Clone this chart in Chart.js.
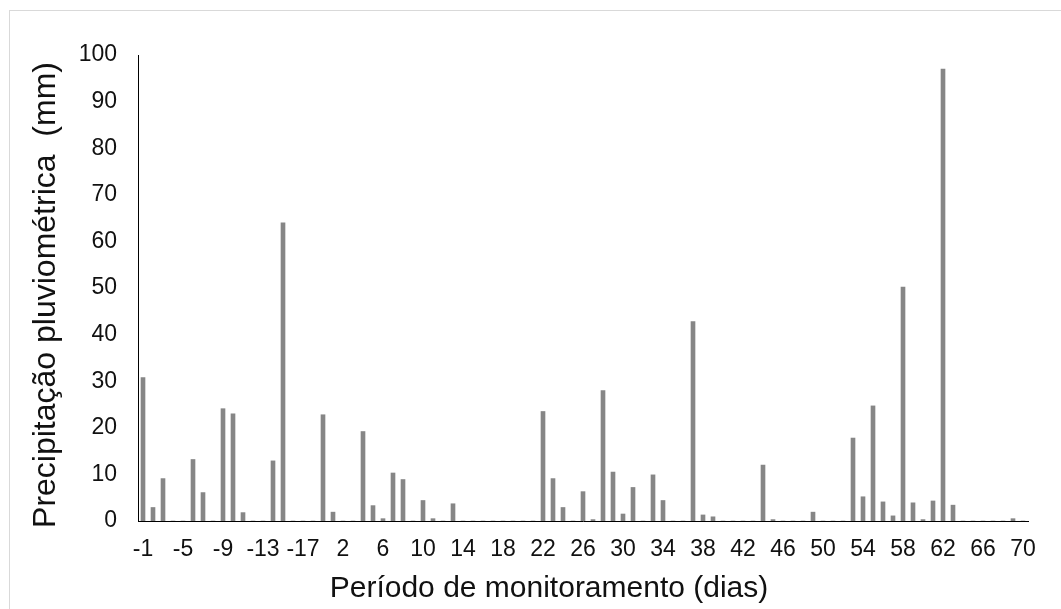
<!DOCTYPE html>
<html>
<head>
<meta charset="utf-8">
<script src="https://cdn.jsdelivr.net/npm/chart.js@4/dist/chart.umd.min.js"></script>
<style>
    html, body { margin: 0; padding: 0; background: #fff; }
    #wrap { position: relative; width: 1061px; height: 609px; overflow: hidden; }
    #frame {
        position: absolute; left: 9px; top: 10px;
        width: 1100px; height: 700px;
        border: 1px solid #d9d9d9; box-sizing: border-box;
    }
    #chart { position: absolute; left: 0; top: 0; }
</style>
</head>
<body>
<div id="wrap">
    <div id="frame"></div>
    <canvas id="chart" width="1061" height="609"></canvas>
</div>
<script>
// Days of monitoring (negative = before the start)
const days = [
    '-1', '-2', '-3', '-4', '-5', '-6', '-7', '-8', '-9', '-10',
    '-11', '-12', '-13', '-14', '-15', '-16', '-17', '-18', '0', '1',
    '2', '3', '4', '5', '6', '7', '8', '9', '10', '11',
    '12', '13', '14', '15', '16', '17', '18', '19', '20', '21',
    '22', '23', '24', '25', '26', '27', '28', '29', '30', '31',
    '32', '33', '34', '35', '36', '37', '38', '39', '40', '41',
    '42', '43', '44', '45', '46', '47', '48', '49', '50', '51',
    '52', '53', '54', '55', '56', '57', '58', '59', '60', '61',
    '62', '63', '64', '65', '66', '67', '68', '69', '70'
];

// Rainfall (mm)
const rainfall = [
    30.8, 2.9, 9.1, 0, 0, 13.2, 6.1, 0, 24.1, 23.0,
    1.8, 0, 0, 12.9, 64.0, 0, 0, 0, 22.8, 1.9,
    0, 0, 19.2, 3.3, 0.5, 10.3, 8.9, 0, 4.4, 0.5,
    0, 3.7, 0, 0, 0, 0, 0, 0, 0, 0,
    23.5, 9.1, 2.9, 0, 6.3, 0.3, 28.0, 10.5, 1.5, 7.2,
    0, 9.9, 4.4, 0, 0, 42.8, 1.3, 0.9, 0, 0,
    0, 0, 12.0, 0.3, 0, 0, 0, 1.9, 0, 0,
    0, 17.8, 5.2, 24.7, 4.1, 1.1, 50.2, 3.9, 0.3, 4.3,
    97.0, 3.4, 0, 0, 0, 0, 0, 0.5, 0
];

const yMin = 0;
const yMax = 100;
const yStep = 10;
const labelEvery = 4;

const xTitle = 'Período de monitoramento (dias)';
const yTitle = 'Precipitação pluviométrica  (mm)';

const FONT = 'Liberation Sans, Arial, sans-serif';
const TEXT = '#111111';

// Axis titles sit a little off-centre in the original, so draw them by hand
const axisTitles = {
    id: 'axisTitles',
    afterDraw(chart) {
        const ctx = chart.ctx;
        ctx.save();
        ctx.fillStyle = TEXT;
        ctx.textAlign = 'center';
        ctx.textBaseline = 'middle';

        ctx.font = '30px ' + FONT;
        ctx.fillText(xTitle, 549, 589);

        ctx.font = '32px ' + FONT;
        ctx.translate(46, 295);
        ctx.rotate(-Math.PI / 2);
        ctx.fillText(yTitle, 0, 0);
        ctx.restore();
    }
};

new Chart(document.getElementById('chart'), {
    type: 'bar',
    data: {
        labels: days,
        datasets: [{
            data: rainfall,
            backgroundColor: '#868686',
            borderWidth: 0,
            barThickness: 4
        }]
    },
    options: {
        responsive: false,
        animation: false,
        layout: { padding: { top: 55, right: 33, left: 0, bottom: 0 } },
        plugins: {
            legend: { display: false },
            tooltip: { enabled: false }
        },
        scales: {
            x: {
                grid: { display: false, drawTicks: false },
                border: { display: true, color: '#000', width: 1 },
                ticks: {
                    autoSkip: false,
                    maxRotation: 0,
                    padding: 15,
                    color: TEXT,
                    font: { family: FONT, size: 23 },
                    callback: function (value, index) {
                        return index % labelEvery === 0 ? this.getLabelForValue(value) : '';
                    }
                },
                afterFit: (scale) => { scale.height = 88; }
            },
            y: {
                min: yMin,
                max: yMax,
                grid: { display: false, drawTicks: false },
                border: { display: true, color: '#000', width: 1 },
                ticks: {
                    stepSize: yStep,
                    padding: 21,
                    color: TEXT,
                    font: { family: FONT, size: 23 }
                },
                afterFit: (scale) => { scale.width = 138; }
            }
        }
    },
    plugins: [axisTitles]
});
</script>
</body>
</html>
